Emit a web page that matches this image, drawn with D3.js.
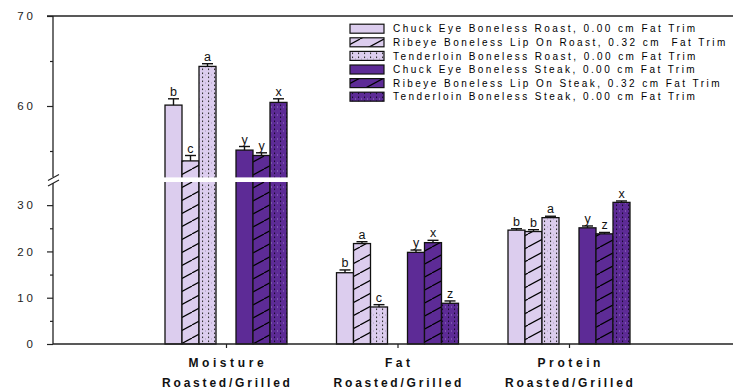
<!DOCTYPE html>
<html>
<head>
<meta charset="utf-8">
<script src="https://cdn.jsdelivr.net/npm/d3@7"></script>
<style>
  html, body { margin: 0; padding: 0; background: #fff; }
  text { font-family: "Liberation Sans", Arial, sans-serif; }
</style>
</head>
<body>
<script>
// ---------- data ----------
const categories = ["Moisture", "Fat", "Protein"];
const subLabel = "Roasted/Grilled";
const seriesNames = [
  "Chuck Eye Boneless Roast, 0.00 cm Fat Trim",
  "Ribeye Boneless Lip On Roast, 0.32 cm  Fat Trim",
  "Tenderloin Boneless Roast, 0.00 cm Fat Trim",
  "Chuck Eye Boneless Steak, 0.00 cm Fat Trim",
  "Ribeye Boneless Lip On Steak, 0.32 cm Fat Trim",
  "Tenderloin Boneless Steak, 0.00 cm Fat Trim"
];
const chuckRoast   = [60.1, 15.4, 24.6];
const ribeyeRoast  = [53.9, 21.7, 24.3];
const tenderRoast  = [64.4,  8.0, 27.3];
const chuckSteak   = [55.1, 19.8, 25.1];
const ribeyeSteak  = [54.5, 21.9, 23.8];
const tenderSteak  = [60.4,  8.8, 30.6];

const chuckRoastErr  = [0.7, 0.6, 0.3];
const ribeyeRoastErr = [0.6, 0.4, 0.4];
const tenderRoastErr = [0.3, 0.5, 0.3];
const chuckSteakErr  = [0.4, 0.5, 0.4];
const ribeyeSteakErr = [0.3, 0.5, 0.3];
const tenderSteakErr = [0.4, 0.5, 0.3];

const chuckRoastLet  = ["b", "b", "b"];
const ribeyeRoastLet = ["c", "a", "b"];
const tenderRoastLet = ["a", "c", "a"];
const chuckSteakLet  = ["y", "y", "y"];
const ribeyeSteakLet = ["y", "x", "z"];
const tenderSteakLet = ["x", "z", "x"];

const yMajorTicks = [0, 10, 20, 30, 60, 70];
const yMinorTicks = [5, 15, 25, 55, 65];

const seriesValues = [chuckRoast, ribeyeRoast, tenderRoast, chuckSteak, ribeyeSteak, tenderSteak];
const seriesErrors = [chuckRoastErr, ribeyeRoastErr, tenderRoastErr, chuckSteakErr, ribeyeSteakErr, tenderSteakErr];
const seriesLetters = [chuckRoastLet, ribeyeRoastLet, tenderRoastLet, chuckSteakLet, ribeyeSteakLet, tenderSteakLet];

// ---------- style ----------
const LIGHT = "#dccdee", DARK = "#5d2b96";
const seriesFill = [LIGHT, LIGHT, LIGHT, DARK, DARK, DARK];
const seriesPat = [null, "hatch", "dotsL", null, "hatch", "dotsD"];

const W = 733, H = 392;
const svg = d3.select("body").append("svg").attr("width", W).attr("height", H);

const defs = svg.append("defs");
const hp = defs.append("pattern").attr("id", "hatch").attr("patternUnits", "userSpaceOnUse")
  .attr("width", 24).attr("height", 13);
[[0, 13, 24, 0], [-24, 13, 0, 0], [24, 13, 48, 0]].forEach(([a, b, c, d]) => {
  hp.append("line").attr("x1", a).attr("y1", b).attr("x2", c).attr("y2", d)
    .attr("stroke", "#000").attr("stroke-width", 1.2);
});

function dotPattern(id, dark, grey) {
  const p = defs.append("pattern").attr("id", id).attr("patternUnits", "userSpaceOnUse")
    .attr("width", 6).attr("height", 8);
  p.append("rect").attr("x", 4).attr("y", 0.5).attr("width", 1.1).attr("height", 1.6).attr("fill", dark);
  p.append("rect").attr("x", 4).attr("y", 4.5).attr("width", 1.1).attr("height", 1.6).attr("fill", dark);
  p.append("rect").attr("x", 1).attr("y", 2.5).attr("width", 1).attr("height", 1).attr("fill", grey);
}
dotPattern("dotsL", "#333", "#a89cb8");
dotPattern("dotsD", "#1a0a30", "#9a80c4");

// ---------- scales ----------
const y = d3.scaleLinear().domain([0, 35, 52, 70]).range([344, 182, 178, 16]);
const x = d3.scaleLinear().domain([0, categories.length - 1]).range([226, 569]);
const side = d3.scaleBand().domain(["roast", "steak"]).range([-61, 61]).paddingInner(0.2817);
const inner = d3.scaleBand().domain([0, 1, 2]).range([0, side.bandwidth()]);
const bw = inner.bandwidth();

function barX(k, i) {
  return x(i) + side(k < 3 ? "roast" : "steak") + inner(k % 3);
}

// ---------- bars ----------
const gBars = svg.append("g");
seriesValues.forEach((vals, k) => {
  vals.forEach((v, i) => {
    const bx = barX(k, i);
    gBars.append("rect").attr("x", bx).attr("y", y(v)).attr("width", bw)
      .attr("height", y(0) - y(v)).attr("fill", seriesFill[k]);
    if (seriesPat[k]) {
      gBars.append("rect").attr("x", bx).attr("y", y(v)).attr("width", bw)
        .attr("height", y(0) - y(v)).attr("fill", `url(#${seriesPat[k]})`);
    }
    gBars.append("rect").attr("x", bx).attr("y", y(v)).attr("width", bw)
      .attr("height", y(0) - y(v)).attr("fill", "none")
      .attr("stroke", "#111").attr("stroke-width", 1.3);
  });
});

// white break gap
svg.append("rect").attr("x", 54).attr("y", y(35) - 4.6).attr("width", W - 54).attr("height", 4.6)
  .attr("fill", "#fff");

// ---------- error bars + letters ----------
const gErr = svg.append("g").attr("stroke", "#111").attr("stroke-width", 1.4);
const gLet = svg.append("g").attr("font-size", 12.5).attr("fill", "#111").attr("text-anchor", "middle");
seriesValues.forEach((vals, k) => {
  vals.forEach((v, i) => {
    const cx = barX(k, i) + bw / 2;
    const top = y(v + seriesErrors[k][i]);
    gErr.append("line").attr("x1", cx).attr("x2", cx).attr("y1", y(v)).attr("y2", top);
    gErr.append("line").attr("x1", cx - 5.5).attr("x2", cx + 5.5).attr("y1", top).attr("y2", top);
    gLet.append("text").attr("x", cx).attr("y", top - 3).text(seriesLetters[k][i]);
  });
});

// ---------- axes ----------
const axisCol = "#222";
svg.append("line").attr("x1", 47).attr("x2", W).attr("y1", y(70)).attr("y2", y(70))
  .attr("stroke", axisCol).attr("stroke-width", 1.3);
svg.append("line").attr("x1", 53).attr("x2", W).attr("y1", y(0)).attr("y2", y(0))
  .attr("stroke", axisCol).attr("stroke-width", 1.3);
svg.append("line").attr("x1", 53).attr("x2", 53).attr("y1", y(70)).attr("y2", y(52) - 1)
  .attr("stroke", axisCol).attr("stroke-width", 1.3);
svg.append("line").attr("x1", 53).attr("x2", 53).attr("y1", y(35) + 1).attr("y2", y(0))
  .attr("stroke", axisCol).attr("stroke-width", 1.3);
[0, 5.5].forEach(o => {
  svg.append("line").attr("x1", 48).attr("y1", 180.5 + o).attr("x2", 59).attr("y2", 174.5 + o)
    .attr("stroke", axisCol).attr("stroke-width", 1.1);
});

const yMajor = svg.append("g").attr("transform", "translate(53,0)")
  .call(d3.axisLeft(y).tickValues(yMajorTicks).tickSize(6).tickPadding(11).tickFormat(d3.format("d")));
yMajor.select(".domain").remove();
yMajor.selectAll("line").attr("stroke", axisCol).attr("stroke-width", 1.2);
yMajor.selectAll("text").attr("font-size", 11.5).attr("fill", "#222")
  .attr("font-family", "Liberation Sans, Arial, sans-serif").style("letter-spacing", "3px");

const yMinor = svg.append("g").attr("transform", "translate(53,0)")
  .call(d3.axisLeft(y).tickValues(yMinorTicks).tickSize(3).tickFormat(""));
yMinor.select(".domain").remove();
yMinor.selectAll("line").attr("stroke", axisCol).attr("stroke-width", 1.2);

const xAxis = svg.append("g").attr("transform", `translate(0,${y(0)})`)
  .call(d3.axisBottom(x).tickValues(d3.range(categories.length)).tickSize(4).tickFormat(""));
xAxis.select(".domain").remove();
xAxis.selectAll("line").attr("stroke", axisCol).attr("stroke-width", 1.2);

const gX = svg.append("g").attr("font-size", 12).attr("font-weight", "bold")
  .attr("fill", "#111").attr("text-anchor", "middle");
categories.forEach((c, i) => {
  gX.append("text").attr("x", x(i) + 1.8).attr("y", 366.5).style("letter-spacing", "3.6px").text(c);
  gX.append("text").attr("x", x(i) + 1.4).attr("y", 386.5).style("letter-spacing", "2.8px").text(subLabel);
});

// ---------- legend ----------
const gLeg = svg.append("g");
seriesNames.forEach((name, k) => {
  const cy = 28.7 + k * 13.6;
  gLeg.append("rect").attr("x", 350).attr("y", cy - 4.5).attr("width", 34).attr("height", 9)
    .attr("fill", seriesFill[k]);
  if (seriesPat[k]) {
    gLeg.append("rect").attr("x", 350).attr("y", cy - 4.5).attr("width", 34).attr("height", 9)
      .attr("fill", `url(#${seriesPat[k]})`);
  }
  gLeg.append("rect").attr("x", 350).attr("y", cy - 4.5).attr("width", 34).attr("height", 9)
    .attr("fill", "none").attr("stroke", "#111").attr("stroke-width", 1.2);
  gLeg.append("text").attr("x", 393).attr("y", cy + 3.6).attr("font-size", 10).attr("fill", "#000")
    .style("letter-spacing", "2.45px").style("white-space", "pre").text(name);
});
</script>
</body>
</html>
